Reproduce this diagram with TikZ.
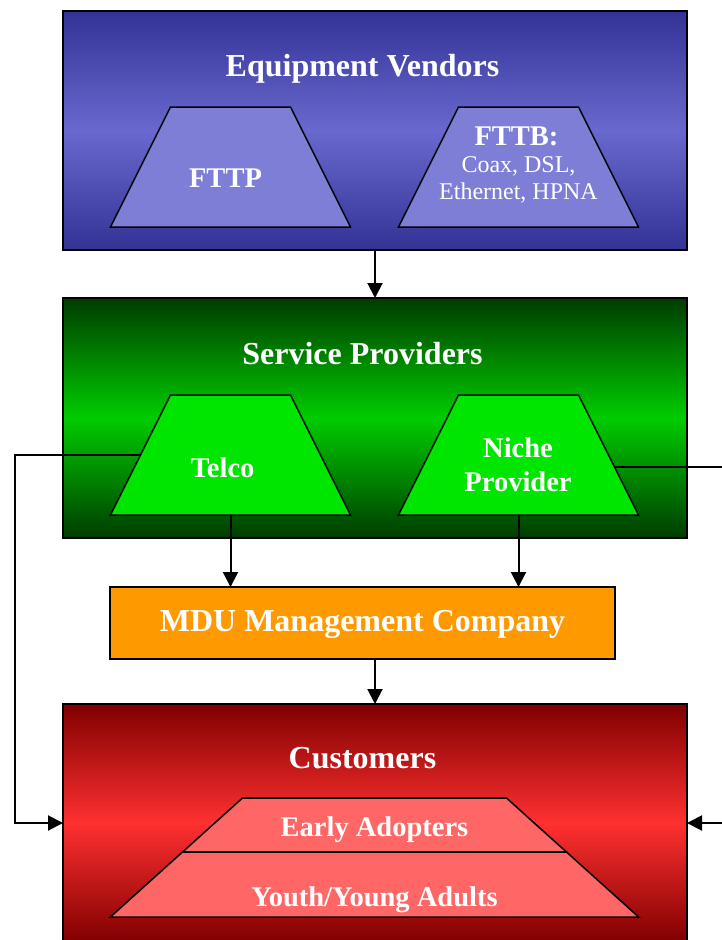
\documentclass[tikz,border=0pt]{standalone}
\usepackage{fontspec}
\setmainfont{Liberation Serif}
\usetikzlibrary{shapes.geometric,arrows.meta,calc}
\definecolor{vendordark}{RGB}{51,51,150}
\definecolor{vendorlight}{RGB}{104,104,206}
\definecolor{vendortrap}{RGB}{126,126,214}
\definecolor{providerdark}{RGB}{0,60,0}
\definecolor{providerlight}{RGB}{0,204,0}
\definecolor{providertrap}{RGB}{0,230,0}
\definecolor{customerdark}{RGB}{128,0,0}
\definecolor{customerlight}{RGB}{255,48,48}
\definecolor{customertrap}{RGB}{255,102,102}
\definecolor{mduorange}{RGB}{255,153,0}

\tikzset{
  layer/.style={draw=black,line width=1.5pt,minimum width=624pt,inner sep=0,outer sep=0},
  % the body rectangle of a trapezium is its top side times its height
  trap/.style={trapezium,draw=black,line width=1.5pt,inner sep=0,outer sep=0,
    text width=120pt,text height=120pt,text depth=0pt,trapezium angle=63.43},
  pyramid/.style={trap,fill=customertrap,trapezium angle=42.03},
  title/.style={text=white,font=\fontsize{32}{36}\selectfont\bfseries,anchor=base,inner sep=0},
  sublabel/.style={text=white,font=\fontsize{28.5}{34}\selectfont\bfseries,anchor=base,inner sep=0,align=center},
  flow/.style={line width=2pt,-{Triangle[length=15pt,width=15pt]}},
  rail/.style={line width=2pt}
}

\begin{document}
\begin{tikzpicture}[x=1pt,y=-1pt]
  \useasboundingbox (0,0) rectangle (722,940);
  % the three layers and the management company
  \node[layer,minimum height=239pt,top color=vendordark,bottom color=vendordark,middle color=vendorlight] (vendors) at (375,130.5) {};
  \node[layer,minimum height=240pt,top color=providerdark,bottom color=providerdark,middle color=providerlight] (providers) at (375,418) {};
  \node[layer,minimum height=72pt,minimum width=505pt,fill=mduorange] (mdu) at (362.5,623) {};
  \node[layer,minimum height=238pt,top color=customerdark,bottom color=customerdark,middle color=customerlight] (customers) at (375,823) {};

  % trapezia inside the boxes
  \node[trap,fill=vendortrap] (fttp) at (230.5,167) {};
  \node[trap,fill=vendortrap] (fttb) at (518.5,167) {};
  \node[trap,fill=providertrap] (telco) at (230.5,455) {};
  \node[trap,fill=providertrap] (niche) at (518.5,455) {};
  \node[pyramid,text width=264pt,text height=54pt,anchor=south] (early) at (374.5,852) {};
  \node[pyramid,text width=384pt,text height=65pt,anchor=north] (youth) at (374.5,852) {};

  % labels
  \node[title] (vendorname) at (362.5,76) {Equipment Vendors};
  \node[title] (providername) at (362.5,364) {Service Providers};
  \node[title] (mduname) at (362.5,631) {MDU Management Company};
  \node[title] (customername) at (362.5,768) {Customers};
  \node[sublabel] (fttpname) at (225.5,187) {FTTP};
  \node[sublabel] (fttbname) at (516.5,145) {FTTB:};
  \node[sublabel,font=\fontsize{24}{27}\selectfont] (fttbkinds) at (518.5,199) {Coax, DSL,\\Ethernet, HPNA};
  \node[sublabel] (telconame) at (222.5,477) {Telco};
  \node[sublabel] (nichename) at (518,491) {Niche\\Provider};
  \node[sublabel] (earlyname) at (374.5,836) {Early Adopters};
  \node[sublabel] (youthname) at (374.5,906) {Youth/Young Adults};

  % connectors
  \coordinate (leftrail) at (15,0);
  \coordinate (rightrail) at (722,0);
  \coordinate (nicheexit) at ($(niche.top right corner)!0.6!(niche.bottom right corner)$);
  \draw[flow] (vendors.south) -- (providers.north);
  \draw[flow] (telco.south) -- (telco.south |- mdu.north);
  \draw[flow] (niche.south) -- (niche.south |- mdu.north);
  \draw[flow] (customers.north |- mdu.south) -- (customers.north);
  \draw[flow] (telco.west) -- (telco.west -| leftrail) |- (customers.west);
  \draw[rail] (nicheexit) -- (nicheexit -| rightrail);
  \draw[flow] (customers.east -| rightrail) -- (customers.east);
\end{tikzpicture}
\end{document}
